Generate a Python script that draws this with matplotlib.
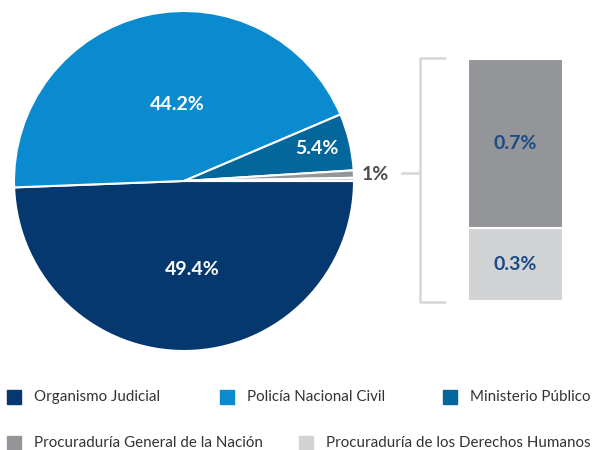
import matplotlib
matplotlib.use("Agg")
import matplotlib.pyplot as plt

plt.rcParams['font.family'] = ['Lato', 'DejaVu Sans']

categories = ["Organismo Judicial", "Policía Nacional Civil", "Ministerio Público",
              "Procuraduría General de la Nación", "Procuraduría de los Derechos Humanos"]
values = [49.4, 44.2, 5.4, 0.7, 0.3]
colors = ["#05386e", "#0a8bd0", "#03679c", "#939598", "#d1d3d4"]
pie_labels = ["49.4%", "44.2%", "5.4%", "", ""]
other_label = "1%"
bar_values = [0.3, 0.7]          # bottom -> top
bar_labels = ["0.3%", "0.7%"]
bar_colors = ["#d1d3d4", "#939598"]

W, H = 592, 450
fig = plt.figure(figsize=(W / 100, H / 100), dpi=100)

# ---- Pie ----
cx, cy, r = 184, 181, 170
axp = fig.add_axes([(cx - r) / W, (H - cy - r) / H, 2 * r / W, 2 * r / H])
wedges, _ = axp.pie(values, colors=colors, startangle=0, counterclock=False,
                    wedgeprops=dict(edgecolor="white", linewidth=1.5))
axp.set_xlim(-1, 1)
axp.set_ylim(-1, 1)
axp.set_aspect("equal")
axp.axis("off")

label_pos = {0: (0.05, -0.52), 1: (-0.04, 0.45), 2: (0.78, 0.19)}
for i, (dx, dy) in label_pos.items():
    axp.text(dx, dy, pie_labels[i], ha="center", va="center", color="white",
             fontsize=14, fontweight="bold")

# ---- Stacked bar ----
bx0, bx1, by0, by1 = 468, 563, 59, 301
axb = fig.add_axes([bx0 / W, (H - by1) / H, (bx1 - bx0) / W, (by1 - by0) / H])
bottom = 0
for v, c, lab in zip(bar_values, bar_colors, bar_labels):
    axb.bar(0, v, width=1, bottom=bottom, color=c, edgecolor="white", linewidth=1.5)
    axb.text(0, bottom + v / 2, lab, ha="center", va="center", color="#1c4a85",
             fontsize=14, fontweight="bold")
    bottom += v
axb.set_xlim(-0.5, 0.5)
axb.set_ylim(0, sum(bar_values))
axb.axis("off")

# ---- Bracket & connector (pixel overlay) ----
ov = fig.add_axes([0, 0, 1, 1], zorder=-1)
ov.set_xlim(0, W)
ov.set_ylim(H, 0)
ov.axis("off")
lc = "#d6d6d6"
ov.plot([446, 420, 420, 446], [58, 58, 302, 302], color=lc, lw=1.8, solid_capstyle="butt")
ov.plot([402, 420], [173, 173], color=lc, lw=1.8)
ov.text(375, 174, other_label, ha="center", va="center", color="#4d4d4d",
        fontsize=14, fontweight="bold")

# ---- Legend ----
legend_pos = [(7, 397), (220, 397), (443, 397), (7, 443), (299, 443)]
for (x, y), c, name in zip(legend_pos, colors, categories):
    ov.add_patch(plt.Rectangle((x, y - 7), 14, 14, color=c))
    ov.text(x + 27, y, name, ha="left", va="center", color="#333333", fontsize=10.9)

fig.savefig("out.png", dpi=100)
